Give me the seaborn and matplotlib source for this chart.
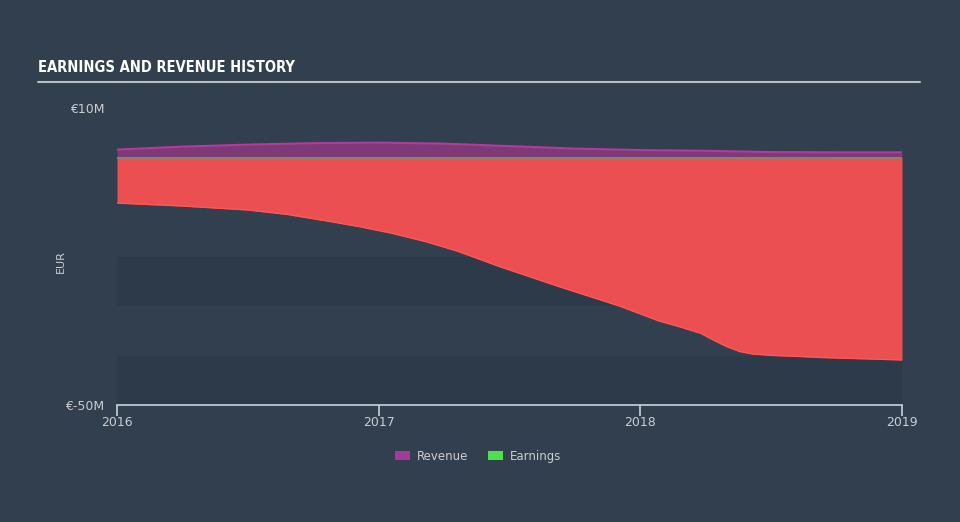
import matplotlib
matplotlib.use("Agg")
import matplotlib.pyplot as plt
from matplotlib.patches import Patch
from matplotlib.lines import Line2D
import seaborn as sns
import pandas as pd

# ---- data (values in millions of EUR) ----
rev_years = [2016.0, 2016.25, 2016.5, 2016.75, 2017.0, 2017.25, 2017.5, 2017.75,
             2018.0, 2018.25, 2018.5, 2018.75, 2019.0]
revenue = [1.6, 2.2, 2.6, 2.9, 3.0, 2.8, 2.3, 1.8, 1.5, 1.35, 1.1, 1.05, 1.05]
earn_years = [2016.0, 2016.25, 2016.5, 2016.65, 2016.8, 2016.93, 2017.05, 2017.18,
              2017.3, 2017.46, 2017.69, 2017.92, 2018.07, 2018.15, 2018.23, 2018.28,
              2018.33, 2018.38, 2018.43, 2018.51, 2018.61, 2018.69, 2019.0]
earnings = [-9.2, -9.8, -10.6, -11.5, -12.8, -14.0, -15.3, -17.0,
            -18.9, -22.0, -26.1, -30.0, -33.0, -34.2, -35.5, -36.9,
            -38.2, -39.2, -39.7, -40.0, -40.2, -40.4, -40.9]
x_ticks = [2016, 2017, 2018, 2019]
x_tick_labels = ["2016", "2017", "2018", "2019"]
y_ticks = [10, -50]
y_tick_labels = ["€10M", "€-50M"]
legend_labels = ["Revenue", "Earnings"]

rev_df = pd.DataFrame({"year": rev_years, "revenue": revenue})
earn_df = pd.DataFrame({"year": earn_years, "earnings": earnings})

BG = "#323f4e"
BAND = "#2d3a49"
TXT = "#c9ced3"

sns.set_theme(style="dark")
plt.rcParams["font.family"] = ["DejaVu Sans"]

fig = plt.figure(figsize=(9.6, 5.22), dpi=100, facecolor=BG)
ax = fig.add_axes([117/960, 1-405/522, (902-117)/960, (405-108)/522])
ax.set_facecolor((0, 0, 0, 0))

# background bands
for lo, hi in [(-50, -40), (-30, -20)]:
    ax.axhspan(lo, hi, color=BAND, lw=0, zorder=0)

# earnings area
ax.fill_between(earn_df["year"], earn_df["earnings"], 0, color="#eb4f51", lw=0, zorder=2)
sns.lineplot(data=earn_df, x="year", y="earnings", ax=ax, color="#ff5656", lw=1.0, zorder=3)
# revenue area
ax.fill_between(rev_df["year"], 0, rev_df["revenue"], color="#7d3a77", lw=0, zorder=2)
sns.lineplot(data=rev_df, x="year", y="revenue", ax=ax, color="#b23aa0", lw=1.5, zorder=3)
ax.axhline(0, color="#858469", lw=1.5, zorder=4)

ax.set_xlim(2016, 2019)
ax.set_ylim(-50, 10)
ax.set_xticks(x_ticks)
ax.set_xticklabels(x_tick_labels)
ax.set_yticks(y_ticks)
ax.set_yticklabels(y_tick_labels)
ax.set_xlabel("")
ax.set_ylabel("EUR", color=TXT, fontsize=8)
ax.yaxis.set_label_coords((66-117)/785, (405-262)/297)
ax.grid(False)
for s in ["top", "right", "left"]:
    ax.spines[s].set_visible(False)
ax.spines["bottom"].set_color("#c8d2dc")
ax.spines["bottom"].set_linewidth(1.2)
ax.spines["bottom"].set_zorder(5)
ax.tick_params(axis="x", colors="#c8d2dc", length=8, width=1.2, direction="out",
               labelsize=9, labelcolor=TXT, pad=0, bottom=True)
ax.tick_params(axis="y", length=0, labelsize=9, labelcolor=TXT, pad=9)

# title and underline
fig.text(38/960, 1-68/522, "EARNINGS AND REVENUE HISTORY", color="white",
         fontsize=10.5, fontweight="bold", family="DejaVu Sans", fontstretch="condensed",
         va="center", ha="left")
fig.add_artist(Line2D([38/960, 920/960], [1-82/522, 1-82/522], color="#b9bec3", lw=1.5))

handles = [Patch(facecolor="#a63a9a", edgecolor="none"),
           Patch(facecolor="#4ee04e", edgecolor="none")]
leg = fig.legend(handles, legend_labels, loc="center", bbox_to_anchor=(0.498, 1-456/522),
                 ncol=2, frameon=False, fontsize=8.5, handlelength=1.3, handleheight=0.9,
                 columnspacing=1.6, handletextpad=0.6)
for t in leg.get_texts():
    t.set_color(TXT)

fig.savefig("out.png", dpi=100, facecolor=BG)
